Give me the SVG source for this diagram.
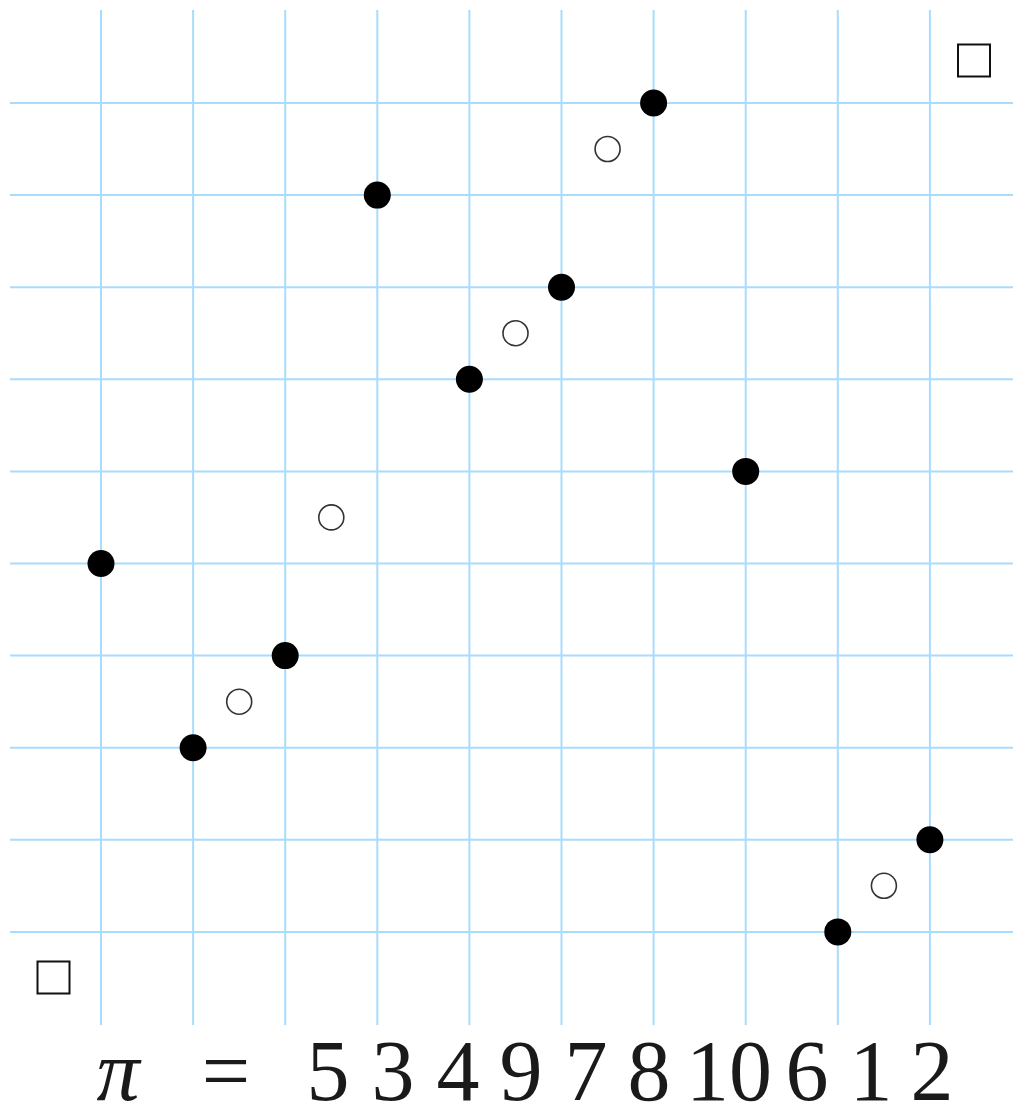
<svg xmlns="http://www.w3.org/2000/svg" width="1013" height="1119" viewBox="0 0 1013 1119">
<style>
.grid line{stroke:#a8dcff;stroke-width:2}
.dot{fill:#000}
.open{fill:#fff;stroke:#333;stroke-width:1.6}
.sq{fill:none;stroke:#111;stroke-width:2}
.lbl{font-family:"Liberation Serif","DejaVu Serif",serif;font-size:86px;fill:#1a1a1a;text-anchor:middle}
</style>
<rect width="1013" height="1119" fill="#fff"/>
<g id="grid" class="grid">
<line x1="101" y1="10" x2="101" y2="1025"/>
<line x1="193.1" y1="10" x2="193.1" y2="1025"/>
<line x1="285.2" y1="10" x2="285.2" y2="1025"/>
<line x1="377.3" y1="10" x2="377.3" y2="1025"/>
<line x1="469.4" y1="10" x2="469.4" y2="1025"/>
<line x1="561.5" y1="10" x2="561.5" y2="1025"/>
<line x1="653.6" y1="10" x2="653.6" y2="1025"/>
<line x1="745.7" y1="10" x2="745.7" y2="1025"/>
<line x1="837.8" y1="10" x2="837.8" y2="1025"/>
<line x1="929.9" y1="10" x2="929.9" y2="1025"/>
<line x1="10" y1="103" x2="1013" y2="103"/>
<line x1="10" y1="195.1" x2="1013" y2="195.1"/>
<line x1="10" y1="287.2" x2="1013" y2="287.2"/>
<line x1="10" y1="379.3" x2="1013" y2="379.3"/>
<line x1="10" y1="471.4" x2="1013" y2="471.4"/>
<line x1="10" y1="563.5" x2="1013" y2="563.5"/>
<line x1="10" y1="655.6" x2="1013" y2="655.6"/>
<line x1="10" y1="747.7" x2="1013" y2="747.7"/>
<line x1="10" y1="839.8" x2="1013" y2="839.8"/>
<line x1="10" y1="931.9" x2="1013" y2="931.9"/>
</g>
<g id="points">
<circle class="dot" cx="101" cy="563.5" r="13.5"/>
<circle class="dot" cx="193.1" cy="747.7" r="13.5"/>
<circle class="dot" cx="285.2" cy="655.6" r="13.5"/>
<circle class="dot" cx="377.3" cy="195.1" r="13.5"/>
<circle class="dot" cx="469.4" cy="379.3" r="13.5"/>
<circle class="dot" cx="561.5" cy="287.2" r="13.5"/>
<circle class="dot" cx="653.6" cy="103" r="13.5"/>
<circle class="dot" cx="745.7" cy="471.4" r="13.5"/>
<circle class="dot" cx="837.8" cy="931.9" r="13.5"/>
<circle class="dot" cx="929.9" cy="839.8" r="13.5"/>
</g>
<g id="open-points">
<circle class="open" cx="239.2" cy="701.7" r="12.5"/>
<circle class="open" cx="331.3" cy="517.4" r="12.5"/>
<circle class="open" cx="515.5" cy="333.2" r="12.5"/>
<circle class="open" cx="607.6" cy="149" r="12.5"/>
<circle class="open" cx="883.9" cy="885.8" r="12.5"/>
</g>
<g id="corners">
<rect class="sq" x="958" y="44.5" width="32" height="32"/>
<rect class="sq" x="37.5" y="961.5" width="32" height="32"/>
</g>
<g id="label">
<text class="lbl" x="118" y="1100" font-style="italic">π</text>
<text class="lbl" x="226" y="1100">=</text>
<text class="lbl" x="328" y="1100">5</text>
<text class="lbl" x="393" y="1100">3</text>
<text class="lbl" x="458" y="1100">4</text>
<text class="lbl" x="521" y="1100">9</text>
<text class="lbl" x="586" y="1100">7</text>
<text class="lbl" x="649" y="1100">8</text>
<text class="lbl" x="729" y="1100">10</text>
<text class="lbl" x="807" y="1100">6</text>
<text class="lbl" x="871" y="1100">1</text>
<text class="lbl" x="932" y="1100">2</text>
</g>
</svg>
